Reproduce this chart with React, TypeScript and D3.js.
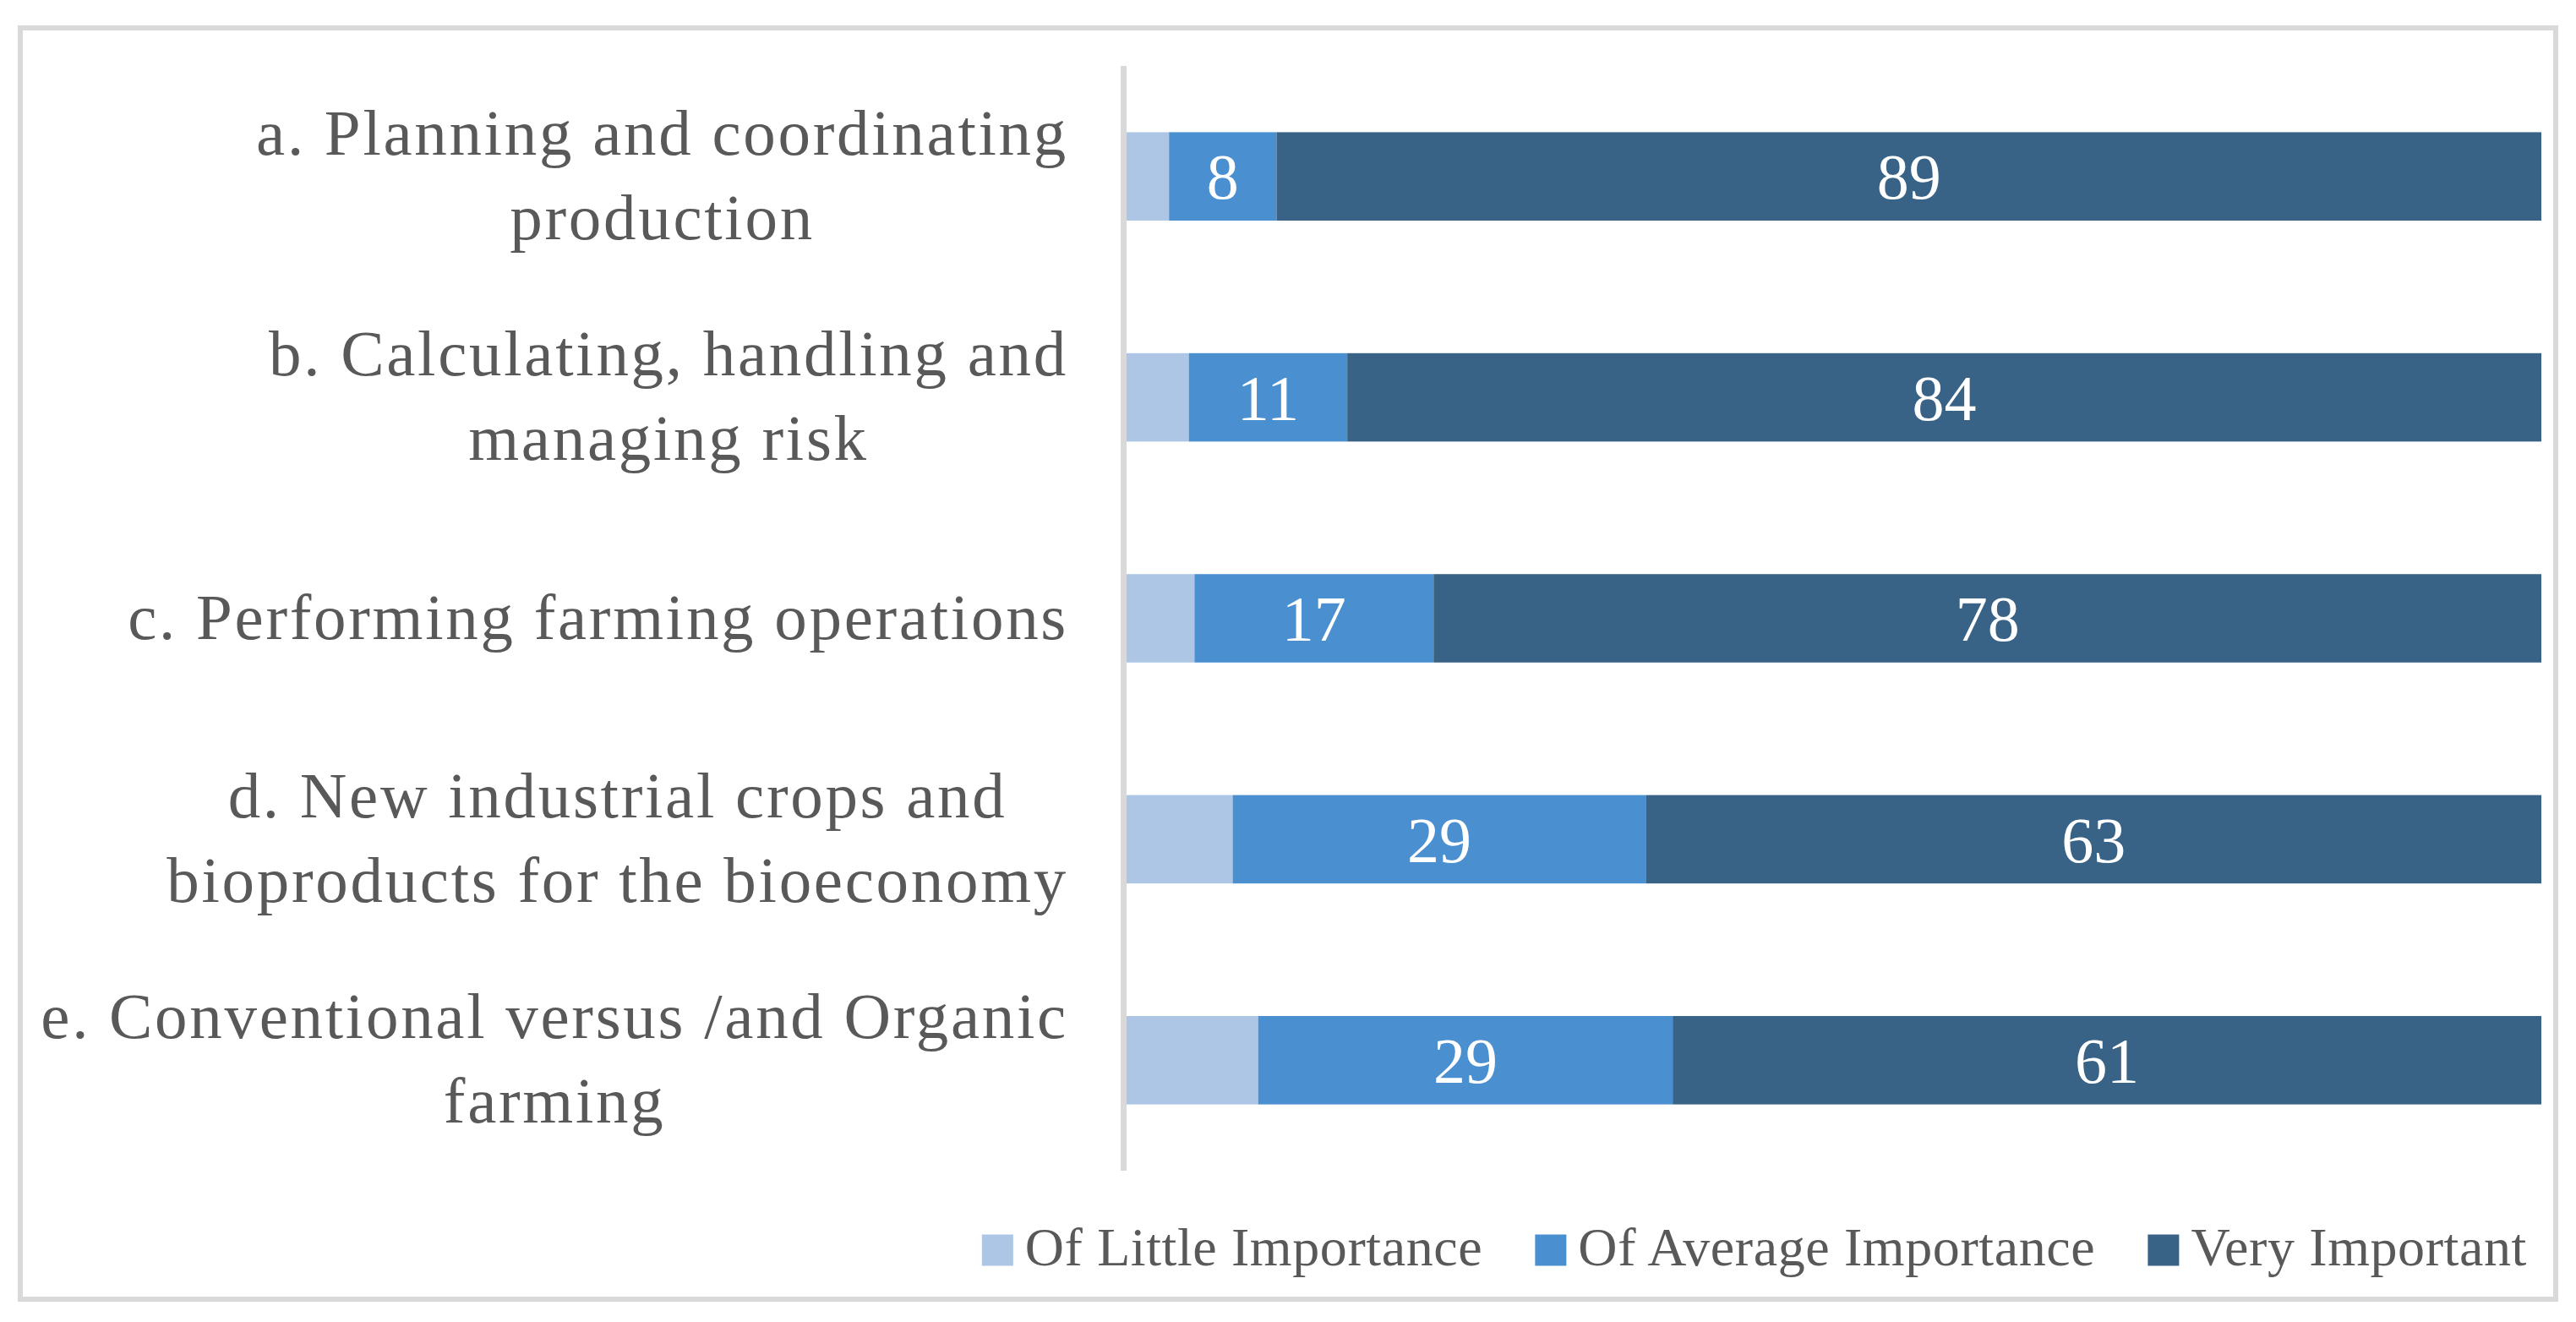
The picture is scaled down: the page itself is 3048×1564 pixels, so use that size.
import { useEffect, useRef } from "react";
import * as d3 from "d3";

const categories = [
  ["a. Planning and coordinating", "production"],
  ["b. Calculating, handling and", "managing risk"],
  ["c. Performing farming operations"],
  ["d. New industrial crops and", "bioproducts for the bioeconomy"],
  ["e. Conventional versus /and Organic", "farming"],
];
const seriesNames = ["Of Little Importance", "Of Average Importance", "Very Important"];
const littleValues = [3.0, 4.4, 4.8, 7.5, 9.3];
const averageValues = [7.6, 11.2, 16.9, 29.2, 29.3];
const veryValues = [89.4, 84.4, 78.3, 63.3, 61.4];
const colors = ["#aec6e6", "#4a8fd0", "#386386"];

const W = 3048;
const H = 1564;
const FONT = "'Palatino Linotype', 'Book Antiqua', Palatino, 'Liberation Serif', serif";

export default function App() {
  const ref = useRef<SVGSVGElement>(null);

  useEffect(() => {
    document.body.style.margin = "0";
    if (!ref.current) return;
    const svg = d3.select(ref.current);
    svg.selectAll("*").remove();

    const margin = { top: 78, bottom: 179, left: 1333, right: 41 };
    const rows = categories.map((c, i) => ({
      key: String(i),
      little: littleValues[i],
      average: averageValues[i],
      very: veryValues[i],
    }));
    const keys = ["little", "average", "very"];
    const stacked = d3.stack<any>().keys(keys)(rows);

    const x = d3.scaleLinear().domain([0, 100]).range([margin.left, W - margin.right]);
    const y = d3.scaleBand<string>()
      .domain(rows.map((r) => r.key))
      .range([margin.top, H - margin.bottom])
      .paddingInner(0.6)
      .paddingOuter(0.3);

    // outer frame
    svg.append("rect")
      .attr("x", 24).attr("y", 33).attr("width", 3000).attr("height", 1504)
      .attr("fill", "#fff").attr("stroke", "#d9d9d9").attr("stroke-width", 6);

    // bars
    stacked.forEach((layer, li) => {
      const g = svg.append("g").attr("fill", colors[li]);
      g.selectAll("rect")
        .data(layer)
        .join("rect")
        .attr("x", (d) => x(d[0]))
        .attr("width", (d) => x(d[1]) - x(d[0]))
        .attr("y", (d) => y(d.data.key)!)
        .attr("height", y.bandwidth());

      if (li > 0) {
        svg.append("g")
          .selectAll("text")
          .data(layer)
          .join("text")
          .attr("x", (d) => (x(d[0]) + x(d[1])) / 2)
          .attr("y", (d) => y(d.data.key)! + y.bandwidth() / 2)
          .attr("dy", "0.35em")
          .attr("text-anchor", "middle")
          .attr("fill", "#fff")
          .attr("font-family", FONT)
          .attr("font-size", 76)
          .text((d) => d3.format(".0f")(d[1] - d[0]));
      }
    });

    // category axis line
    svg.append("line")
      .attr("x1", margin.left - 3.5).attr("x2", margin.left - 3.5)
      .attr("y1", margin.top).attr("y2", H - margin.bottom)
      .attr("stroke", "#d9d9d9").attr("stroke-width", 7);

    // category labels: lines centred in a block that is right-aligned
    const labelRight = 1264;
    const lineH = 100;
    categories.forEach((lines, i) => {
      const cy = y(String(i))! + y.bandwidth() / 2;
      const g = svg.append("g");
      const texts = lines.map((line, j) =>
        g.append("text")
          .attr("y", cy + (j - (lines.length - 1) / 2) * lineH + 24)
          .attr("text-anchor", "middle")
          .attr("fill", "#595959")
          .attr("font-family", FONT)
          .attr("font-size", 77)
          .attr("letter-spacing", 2.7)
          .text(line)
      );
      const widest = d3.max(texts, (t) => (t.node() as SVGTextElement).getComputedTextLength()) || 0;
      texts.forEach((t) => t.attr("x", labelRight - widest / 2));
    });

    // legend, right-aligned
    const legend = svg.append("g");
    const legendY = 1479;
    const sw = 37;
    const items = seriesNames.map((name, i) => {
      const item = legend.append("g");
      item.append("rect")
        .attr("x", 0).attr("y", legendY - sw / 2)
        .attr("width", sw).attr("height", sw)
        .attr("fill", colors[i]);
      const t = item.append("text")
        .attr("x", sw + 14).attr("y", legendY + 18)
        .attr("fill", "#595959")
        .attr("font-family", FONT)
        .attr("font-size", 64)
        .attr("letter-spacing", 0.6)
        .text(name);
      const w = sw + 14 + (t.node() as SVGTextElement).getComputedTextLength();
      return { item, w };
    });
    const gap = 62;
    const total = d3.sum(items, (d) => d.w) + gap * (items.length - 1);
    let cursor = 2990 - total;
    items.forEach((d) => {
      d.item.attr("transform", `translate(${cursor},0)`);
      cursor += d.w + gap;
    });
  }, []);

  return <svg ref={ref} width={W} height={H} style={{ display: "block", background: "#fff" }} />;
}
